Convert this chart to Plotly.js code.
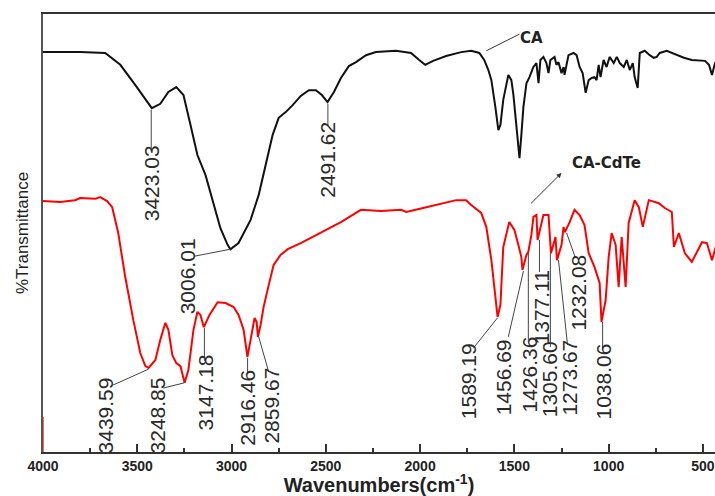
<!DOCTYPE html>
<html><head><meta charset="utf-8">
<script src="https://cdn.plot.ly/plotly-3.0.1.min.js"></script>
<style>html,body{margin:0;padding:0;background:#fff}#chart{width:715px;height:496px}</style>
</head><body><div id="chart"></div>
<script>
// CA spectrum (wavenumber cm-1, % transmittance, arbitrary offset)
var caWavenumber = [4000,3803,3670,3590,3511,3457,3423,3378,3335,3293,3255,3218,3181,3138,3101,3059,3021,3006,2963,2926,2899,2856,2819,2782,2750,2713,2676,2633,2590,2553,2521,2491,2457,2420,2378,2340,2287,2234,2128,2048,2005,1973,1931,1862,1782,1729,1686,1660,1638,1622,1601,1585,1574,1559,1532,1516,1505,1489,1473,1463,1452,1436,1420,1399,1383,1372,1362,1346,1330,1319,1309,1287,1277,1266,1250,1239,1234,1213,1186,1170,1154,1138,1122,1106,1090,1075,1064,1053,1043,1027,1011,995,973,957,941,920,904,888,872,862,846,835,809,782,761,745,729,692,665,638,601,559,489,468,452,436,426];
var caT = [91.3,91.3,91.1,88.4,83.8,80.4,78.5,79.5,82.2,83.3,81.5,74.7,67.8,63.2,57.5,51.1,47.3,46.3,47.7,50.7,53.0,58.7,65.5,72.4,76.3,77.6,79.2,81.3,82.6,82.6,81.5,79.9,82.2,85.4,88.1,89.0,90.6,91.3,91.6,91.1,89.5,88.4,89.3,90.4,91.3,91.6,91.1,89.5,87.2,84.9,78.8,73.5,74.7,80.4,86.1,84.9,81.5,73.5,67.1,72.4,78.8,84.2,85.6,87.9,88.8,84.2,89.5,90.2,88.8,86.5,89.5,90.2,88.4,89.0,86.5,87.9,86.1,90.6,91.1,90.6,87.9,86.5,82.0,84.9,85.4,85.6,84.9,88.4,85.6,89.5,87.9,90.2,88.8,90.2,88.8,87.9,89.5,87.2,88.8,85.6,83.1,91.1,91.6,90.6,90.0,90.2,91.1,91.6,91.1,90.6,90.0,89.5,89.3,88.4,86.1,88.8,89.5];

// CA-CdTe spectrum
var cdteWavenumber = [4000,3910,3830,3803,3723,3697,3660,3633,3601,3564,3521,3484,3457,3440,3404,3378,3351,3335,3314,3293,3271,3249,3229,3202,3181,3165,3147,3117,3074,3032,2989,2963,2936,2916,2899,2878,2867,2860,2846,2830,2803,2777,2740,2702,2633,2527,2420,2314,2207,2101,2074,1984,1888,1809,1756,1729,1676,1649,1622,1596,1589,1574,1559,1527,1500,1479,1463,1457,1436,1426,1410,1399,1383,1377,1346,1319,1306,1282,1274,1250,1239,1232,1207,1181,1154,1128,1106,1075,1048,1038,1016,1000,984,963,947,931,910,894,862,840,819,787,734,702,665,654,628,596,559,505,479,452,426];
var cdteT = [57.3,57.1,57.5,58.0,57.8,58.2,57.3,55.9,50.0,40.0,30.1,22.6,19.6,19.2,21.0,25.6,29.5,27.9,22.1,20.3,19.6,15.8,18.7,27.9,32.0,31.3,28.5,31.3,34.2,34.0,33.1,31.3,27.9,21.7,25.6,30.6,29.7,26.3,29.0,33.1,38.1,42.7,45.0,46.3,47.7,50.0,52.5,55.3,55.0,55.3,54.8,55.7,56.6,57.5,57.5,56.4,54.6,51.4,43.8,33.1,30.8,33.6,46.8,52.5,50.7,47.3,44.5,41.6,45.0,45.7,49.5,53.7,54.1,48.4,54.1,54.1,45.4,49.1,43.8,47.3,51.4,50.2,52.5,55.3,54.1,51.8,45.4,42.2,38.6,29.7,34.7,44.5,50.0,47.3,37.7,49.1,37.7,52.3,57.5,55.9,51.4,57.5,56.8,55.7,54.8,46.8,50.0,45.4,43.4,47.9,47.7,43.8,47.7];
var stubWavenumber = [4000,4000];
var stubT = [0,8];

// x tick labels
var tickValues = [4000,3500,3000,2500,2000,1500,1000,500];
var tickLabels = ["4000","3500","3000","2500","2000","1500","1000","500"];

// Peak labels
var peakLabels = ["3423.03","2491.62","3006.01","3439.59","3248.85","3147.18","2916.46","2859.67","1589.19","1456.69","1426.36","1377.11","1305.60","1273.67","1232.08","1038.06"];
var labelX = [3426,2489,3234,3670,3394,3138,2915,2793,1745,1559,1420,1356,1314,1207,1160,1027];
var labelY = [61.4,66.7,40.2,8.4,8.4,13.5,10.0,10.5,16.2,17.1,17.8,32.9,16.7,16.9,36.5,16.0];
var leadX0 = [3426,2489,3197,3628,3362,3144,2915,2856,1718,1532,1426,1367,1309,1266,1223,1032];
var leadY0 = [68.7,74.4,44.7,15.3,14.6,20.8,17.8,26.3,23.7,26.3,25.6,41.1,24.0,43.8,50.0,23.3];
var leadX1 = [3426,2489,3006,3441,3250,3144,2915,2803,1590,1452,1426,1367,1309,1218,1176,1032];
var leadY1 = [78.1,79.5,46.3,18.9,15.8,28.3,21.5,18.3,30.6,41.3,45.7,48.4,45.4,24.4,44.3,29.7];

var seriesNames = ["CA","CA-CdTe"];
var seriesLabelX = [1410,1011];
var seriesLabelY = [94.5,66.0];

var traces = [
  {x:caWavenumber,y:caT,mode:'lines',line:{color:'#111',width:2},name:'CA',hoverinfo:'skip'},
  {x:cdteWavenumber,y:cdteT,mode:'lines',line:{color:'#ff0000',width:2},name:'CA-CdTe',hoverinfo:'skip'},
  {x:stubWavenumber,y:stubT,mode:'lines',line:{color:'#ff3030',width:1.5},hoverinfo:'skip'}
];

var shapes = [];
var annotations = [];
for (var i=0;i<peakLabels.length;i++){
  shapes.push({type:'line',xref:'x',yref:'y',x0:leadX0[i],y0:leadY0[i],x1:leadX1[i],y1:leadY1[i],line:{color:'#444',width:1}});
  annotations.push({x:labelX[i],y:labelY[i],xref:'x',yref:'y',text:peakLabels[i],showarrow:false,textangle:-90,
    font:{family:'Liberation Sans Narrow, Liberation Sans, Arial',size:21,color:'#2a2a2a'}});
}
// series labels
annotations.push({x:seriesLabelX[0],y:seriesLabelY[0],xref:'x',yref:'y',text:'<b>'+seriesNames[0]+'</b>',showarrow:false,
  font:{family:'DejaVu Sans',size:15,color:'#222'}});
annotations.push({x:seriesLabelX[1],y:seriesLabelY[1],xref:'x',yref:'y',text:'<b>'+seriesNames[1]+'</b>',showarrow:false,
  font:{family:'DejaVu Sans',size:15,color:'#222'}});
shapes.push({type:'line',xref:'x',yref:'y',x0:1649,y0:91.6,x1:1473,y1:95.4,line:{color:'#333',width:1}});
annotations.push({x:1250,y:63.7,ax:1420,ay:56.4,xref:'x',yref:'y',axref:'x',ayref:'y',text:'',showarrow:true,
  arrowhead:2,arrowsize:1,arrowwidth:1,arrowcolor:'#333'});

var ticktextBold = tickLabels.map(function(t){return '<b>'+t+'</b>';});

var layout = {
  width:715,height:496,
  margin:{l:43,r:0,t:14,b:44},
  paper_bgcolor:'#fff',plot_bgcolor:'#fff',
  showlegend:false,
  xaxis:{range:[4000,436],autorange:false,showgrid:false,zeroline:false,layer:'below traces',
    showline:true,linecolor:'#333',linewidth:2,mirror:true,
    ticks:'inside',ticklen:8,tickwidth:2,tickcolor:'#333',tickmode:'array',tickvals:tickValues,ticktext:ticktextBold,
    minor:{ticks:'inside',ticklen:4,tickwidth:2,tickcolor:'#333',dtick:250,tick0:0},
    tickfont:{family:'Liberation Sans, Arial',size:14,color:'#222'},
    title:{text:'<b>Wavenumbers(cm<sup>-1</sup>)</b>',font:{family:'Liberation Sans, Arial',size:20,color:'#222'},standoff:4}},
  yaxis:{range:[0,100],autorange:false,showgrid:false,zeroline:false,showticklabels:false,ticks:'',layer:'below traces',
    showline:true,linecolor:'#555',linewidth:2,
    title:{text:'%Transmittance',font:{family:'Liberation Sans, Arial',size:17,color:'#222'},standoff:8}},
  shapes:shapes,
  annotations:annotations
};
Plotly.newPlot('chart',traces,layout,{staticPlot:true,displayModeBar:false});
</script></body></html>
